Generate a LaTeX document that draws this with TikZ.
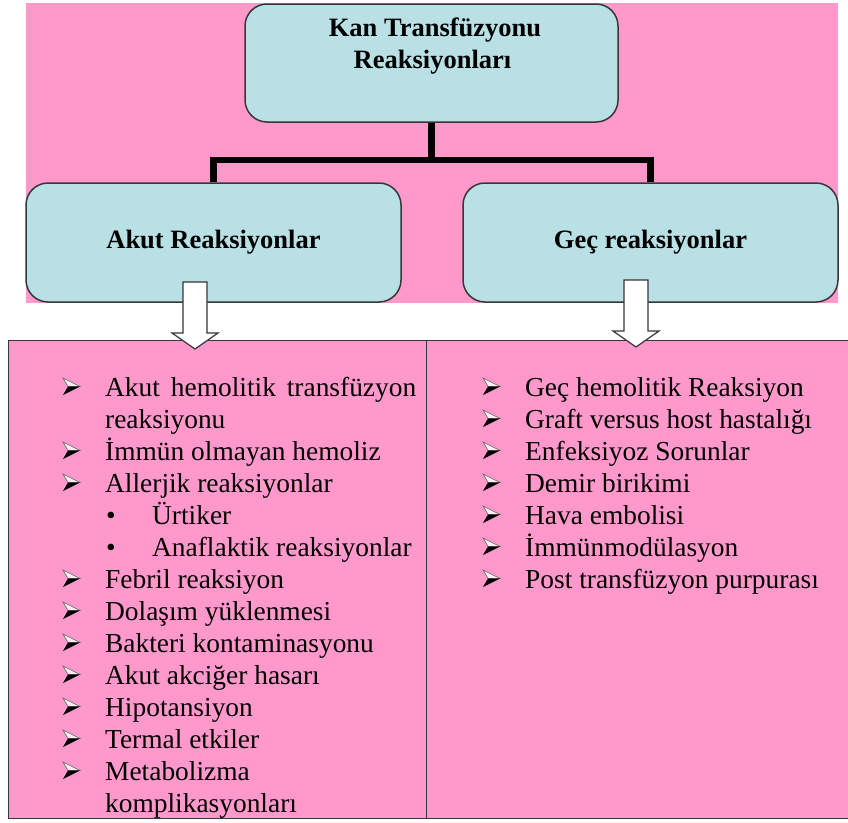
\documentclass[tikz,border=0pt]{standalone}
\usepackage{fontspec}
\setmainfont{Liberation Serif}
\definecolor{pinkbg}{RGB}{255,153,204}
\definecolor{boxblue}{RGB}{185,224,228}
\definecolor{edgegray}{RGB}{55,55,55}
\tikzset{
  box/.style={draw=edgegray, line width=1.5pt, fill=boxblue, rounded corners=22pt, inner sep=0pt},
  headtext/.style={font=\fontsize{26.5}{32}\selectfont\bfseries, inner sep=0pt},
  conn/.style={line width=6.5pt, draw=black, line join=miter},
  blockarrow/.style={draw=edgegray, line width=1.2pt, fill=white, line join=miter},
  cell/.style={draw=edgegray, line width=1.3pt, fill=pinkbg, inner sep=0pt, anchor=north west},
  item/.style={font=\fontsize{27.4}{32}\selectfont, inner sep=0pt, anchor=base west},
  hollowdown/.pic={\draw[blockarrow] (-12,0) -- (12,0) -- (12,51) -- (23,51) -- (0,67) -- (-23,51) -- (-12,51) -- cycle;},
  arrowbullet/.pic={
    \draw[draw=edgegray!80, line width=0.6pt, fill=white!85!pinkbg, line join=miter] (0,-8.5) -- (17,0) -- (5,0) -- cycle;
    \fill[black] (5,0) -- (17,0) -- (0,8.5) -- cycle;}
}
\begin{document}
\begin{tikzpicture}[x=1pt,y=-1pt]
\useasboundingbox (0,0) rectangle (848,822);
\fill[white] (0,0) rectangle (848,822);
\fill[pinkbg] (26,3) rectangle (838,303);

% top box and title
\node[box, minimum width=373pt, minimum height=118pt] (top) at (431.5,63) {};
\node[headtext, anchor=base] (t1) at (435,36) {Kan Transfüzyonu};
\node[headtext, anchor=base] (t2) at (432.5,68) {Reaksiyonları};

% second level boxes
\node[box, headtext, minimum width=375pt, minimum height=119pt] (akut) at (213.5,242.5) {Akut Reaksiyonlar};
\node[box, headtext, minimum width=375pt, minimum height=119pt] (gec) at (650.5,242.5) {Geç reaksiyonlar};

% connector
\coordinate (junc) at (431.5,160);
\draw[conn] (top.south) -- (junc);
\draw[conn] (akut.north) |- (junc) -| (gec.north);

% table
\node[cell, minimum width=418pt, minimum height=478pt] (leftcol) at (8,340) {};
\node[cell, minimum width=426pt, minimum height=478pt] (rightcol) at (426,340) {};

% hollow arrows
\pic at (195,282) {hollowdown};
\pic at (636,280) {hollowdown};

% bullets (arrowheads)
\foreach \yy in {396,460,492,588,620,652,684,716,748,780} {\pic at (63,\yy-9.5) {arrowbullet};}
\foreach \yy in {396,428,460,492,524,556,588} {\pic at (483,\yy-9.5) {arrowbullet};}

% left column
\node[item] (l1) at (105,396) {\makebox[311pt][s]{Akut hemolitik transfüzyon}};
\node[item] (l2) at (105,428) {reaksiyonu};
\node[item] (l3) at (105,460) {İmmün olmayan hemoliz};
\node[item] (l4) at (105,492) {Allerjik reaksiyonlar};
\node[item] (ls5) at (106,524) {•};
\node[item] (l5) at (152,524) {Ürtiker};
\node[item] (ls6) at (106,556) {•};
\node[item] (l6) at (152,556) {Anaflaktik reaksiyonlar};
\node[item] (l7) at (105,588) {Febril reaksiyon};
\node[item] (l8) at (105,620) {Dolaşım yüklenmesi};
\node[item] (l9) at (105,652) {Bakteri kontaminasyonu};
\node[item] (l10) at (105,684) {Akut akciğer hasarı};
\node[item] (l11) at (105,716) {Hipotansiyon};
\node[item] (l12) at (105,748) {Termal etkiler};
\node[item] (l13) at (105,780) {Metabolizma};
\node[item] (l14) at (105,812) {komplikasyonları};

% right column
\node[item] (r1) at (525,396) {Geç hemolitik Reaksiyon};
\node[item] (r2) at (525,428) {Graft versus host hastalığı};
\node[item] (r3) at (525,460) {Enfeksiyoz Sorunlar};
\node[item] (r4) at (525,492) {Demir birikimi};
\node[item] (r5) at (525,524) {Hava embolisi};
\node[item] (r6) at (525,556) {İmmünmodülasyon};
\node[item] (r7) at (525,588) {Post transfüzyon purpurası};
\end{tikzpicture}
\end{document}
